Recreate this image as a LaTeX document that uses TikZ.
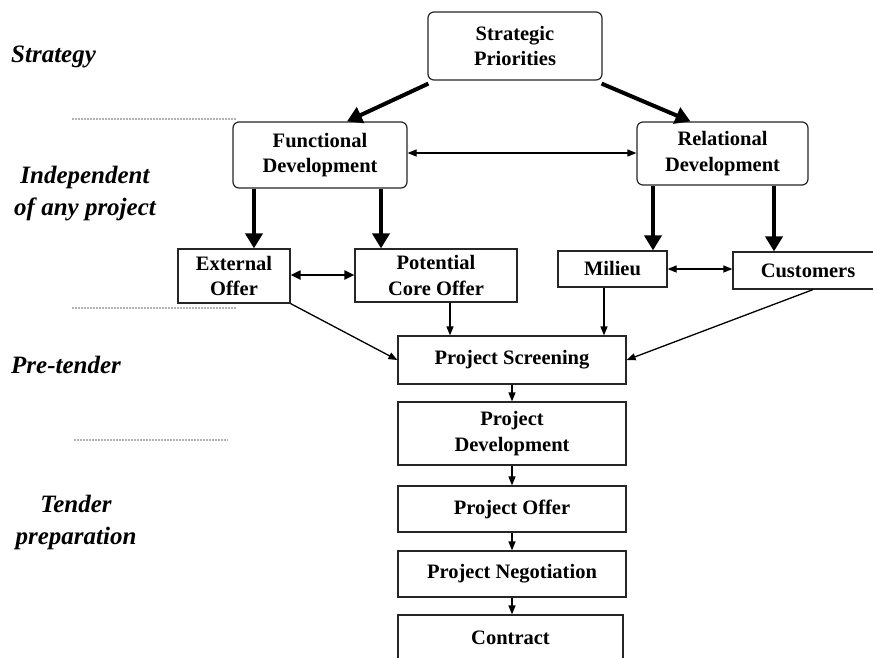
\documentclass[tikz,border=0pt]{standalone}
\usepackage{fontspec}
\setmainfont{Liberation Serif}
\usetikzlibrary{arrows.meta}
\begin{document}
\begin{tikzpicture}[x=1pt,y=-1pt,
  box/.style={draw=black!85,line width=1.2pt,inner sep=0pt,align=center,
    font=\fontsize{20.5}{25.5}\selectfont\bfseries},
  rbox/.style={box,rounded corners=6pt},
  lbl/.style={inner sep=0pt,align=center,font=\fontsize{25}{32}\selectfont\bfseries\itshape},
  thick arrow/.style={line width=4pt,-{Triangle[width=17pt,length=15pt]}},
  thin arrow/.style={line width=1.3pt,-{Triangle[width=7pt,length=9pt]}},
  thin both/.style={line width=1.2pt,{Triangle[width=7pt,length=9pt]}-{Triangle[width=7pt,length=9pt]}},
  mid both/.style={line width=2pt,{Triangle[width=9pt,length=10pt]}-{Triangle[width=9pt,length=10pt]}},
  sep/.style={gray!60,line width=1.2pt,dash pattern=on 2pt off 1pt}]
\useasboundingbox (0,0) rectangle (873,657);
\clip (0,0) rectangle (873,657);
\fill[white] (0,0) rectangle (873,657);

% boxes
\node[rbox,minimum width=174pt,minimum height=68pt] (sp) at (515,46) {Strategic\\Priorities};
\node[rbox,minimum width=174pt,minimum height=66pt] (fd) at (320,155) {Functional\\Development};
\node[rbox,minimum width=171pt,minimum height=63pt] (rd) at (722.5,153.5) {Relational\\Development};
\node[box,minimum width=112pt,minimum height=54pt] (eo) at (234,276) {External\\Offer};
\node[box,minimum width=162pt,minimum height=53pt] (pco) at (436,275.5) {Potential\\Core Offer};
\node[box,minimum width=109pt,minimum height=36pt] (mi) at (612.5,269) {Milieu};
\node[box,minimum width=150pt,minimum height=37pt] (cu) at (808,270.5) {Customers};
\node[box,minimum width=228pt,minimum height=48pt] (ps) at (512,360) {Project Screening};
\node[box,minimum width=228pt,minimum height=63pt] (pd) at (512,433.5) {Project\\Development};
\node[box,minimum width=228pt,minimum height=46pt] (po) at (512,509) {Project Offer};
\node[box,minimum width=228pt,minimum height=46pt] (pn) at (512,574) {Project Negotiation};
\node[box,minimum width=225pt,minimum height=48pt] (ct) at (510.5,639) {};
\node[font=\fontsize{20.5}{25}\selectfont\bfseries,inner sep=0pt] (ctl) at (510.5,638) {Contract};

% side labels
\node[lbl,anchor=west] (l1) at (11,57) {Strategy};
\node[lbl] (l2) at (85,194) {Independent\\of any project};
\node[lbl,anchor=west] (l3) at (11,365) {Pre-tender};
\node[lbl] (l4) at (76,522) {Tender\\preparation};

% separators
\coordinate (s1a) at (72,119); \coordinate (s1b) at (236,119);
\coordinate (s2a) at (72,308); \coordinate (s2b) at (236,308);
\coordinate (s3a) at (74,440); \coordinate (s3b) at (228,440);
\draw[sep] (s1a) -- (s1b);
\draw[sep] (s2a) -- (s2b);
\draw[sep] (s3a) -- (s3b);

% thick arrows
\draw[thick arrow] ([xshift=1pt,yshift=-3pt]sp.south west) -- ([xshift=27pt]fd.north);
\draw[thick arrow] ([xshift=-1pt,yshift=-3pt]sp.south east) -- ([xshift=-32pt]rd.north);
\draw[thick arrow] ([xshift=-66pt]fd.south) -- ([xshift=20pt]eo.north);
\draw[thick arrow] ([xshift=61pt]fd.south) -- ([xshift=-55pt]pco.north);
\draw[thick arrow] ([xshift=-69.5pt]rd.south) -- ([xshift=40.5pt]mi.north);
\draw[thick arrow] ([xshift=51.5pt]rd.south) -- ([xshift=-34pt]cu.north);

% double arrows
\draw[thin both] ([yshift=2pt]fd.east) -- ([yshift=2pt]fd.east -| rd.west);
\draw[mid both] ([yshift=1pt]eo.east) -- ([yshift=1pt]eo.east -| pco.west);
\draw[thin both] (mi.east) -- (mi.east -| cu.west);

% into screening
\draw[thin arrow] (eo.south east) -- (ps.west);
\draw[thin arrow] ([xshift=14pt]pco.south) -- ([xshift=14pt]pco.south |- ps.north);
\draw[thin arrow] ([xshift=-8.5pt]mi.south) -- ([xshift=-8.5pt]mi.south |- ps.north);
\draw[thin arrow] ([xshift=5pt]cu.south) -- (ps.east);

% chain
\draw[thin arrow] (ps.south) -- (pd.north);
\draw[thin arrow] (pd.south) -- (po.north);
\draw[thin arrow] (po.south) -- (pn.north);
\draw[thin arrow] (pn.south) -- (pn.south |- ct.north);
\end{tikzpicture}
\end{document}
